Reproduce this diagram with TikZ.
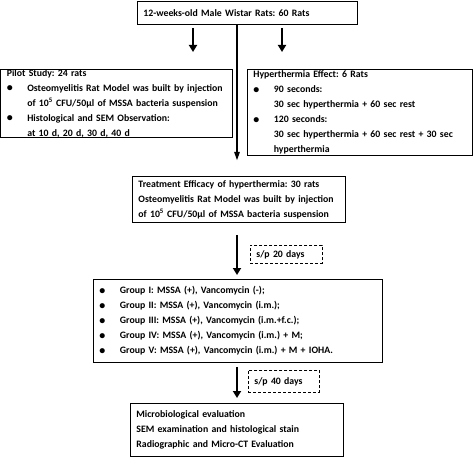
\documentclass[tikz,border=0pt]{standalone}
\usepackage{fontspec}
\setmainfont{Carlito}
\usetikzlibrary{arrows.meta,positioning}
\frenchspacing

\newcommand{\bul}{\makebox[20.5pt][l]{\raisebox{-0.5pt}{\fontsize{12}{12}\selectfont\textbullet}}}
\newcommand{\cont}{\hspace*{20.5pt}}

\begin{document}
\begin{tikzpicture}[x=1pt, y=-1pt,
    every node/.style={font=\fontsize{9.8}{15}\selectfont\bfseries},
    box/.style={
        rectangle,
        draw,
        line width=0.8pt,
        anchor=north west,
        align=left,
        inner xsep=6pt,
        inner ysep=0pt
    },
    tag/.style={box, densely dashed, line width=0.7pt},
    fatarrow/.style={-{Triangle[width=8pt,length=7pt]}, line width=2.6pt},
    longarrow/.style={-{Triangle[width=5pt,length=9pt]}, line width=2.6pt}
]
    \useasboundingbox (0,0) rectangle (473,457);

    \node (rats) [box, text width=208pt, minimum height=23pt] at (137,1)
    {
        12-weeks-old Male Wistar Rats: 60 Rats
    };
    \node (pilot) [box, text width=220pt, minimum height=67pt] at (0.4,69)
    {
        Pilot Study: 24 rats\\
        \bul Osteomyelitis Rat Model was built by injection\\
        \cont of 10\textsuperscript{5} CFU/50µl of MSSA bacteria suspension\\
        \bul Histological and SEM Observation:\\
        \cont at 10 d, 20 d, 30 d, 40 d
    };
    \node (heat) [box, text width=213pt, minimum height=86pt] at (247,69)
    {
        Hyperthermia Effect: 6 Rats\\
        \bul 90 seconds:\\
        \cont 30 sec hyperthermia + 60 sec rest\\
        \bul 120 seconds:\\
        \cont 30 sec hyperthermia + 60 sec rest + 30 sec\\
        \cont hyperthermia
    };
    \node (treat) [box, text width=201pt, minimum height=46pt] at (132,176)
    {
        Treatment Efficacy of hyperthermia: 30 rats\\
        Osteomyelitis Rat Model was built by injection\\
        of 10\textsuperscript{5} CFU/50µl of MSSA bacteria suspension
    };
    \node (groups) [box, text width=277pt, minimum height=83pt] at (93,279)
    {
        \bul Group I: MSSA (+), Vancomycin (-);\\
        \bul Group II: MSSA (+), Vancomycin (i.m.);\\
        \bul Group III: MSSA (+), Vancomycin (i.m.+f.c.);\\
        \bul Group IV: MSSA (+), Vancomycin (i.m.) + M;\\
        \bul Group V: MSSA (+), Vancomycin (i.m.) + M + IOHA.
    };
    \node (eval) [box, text width=201pt, minimum height=53pt] at (130,403)
    {
        Microbiological evaluation\\
        SEM examination and histological stain\\
        Radiographic and Micro-CT Evaluation
    };
    \node (day20) [tag, text width=60pt, minimum height=18pt] at (250,245)
    {
        s/p 20 days
    };
    \node (day40) [tag, text width=59pt, minimum height=22pt] at (248,370)
    {
        s/p 40 days
    };

    \coordinate (colL) at (193,0);
    \coordinate (colM) at (237,0);
    \coordinate (colR) at (282,0);

    \draw[fatarrow, shorten <=3pt, shorten >=17pt] (rats.south -| colL) to (pilot.north -| colL);
    \draw[fatarrow, shorten <=3pt, shorten >=17pt] (rats.south -| colR) to (heat.north -| colR);
    \draw[longarrow, shorten >=15pt] (rats.south -| colM) to (treat.north -| colM);
    \draw[fatarrow, shorten <=12pt, shorten >=4pt] (treat.south -| colM) to (groups.north -| colM);
    \draw[fatarrow, shorten <=4pt, shorten >=5pt] (groups.south -| colM) to (eval.north -| colM);
\end{tikzpicture}
\end{document}
